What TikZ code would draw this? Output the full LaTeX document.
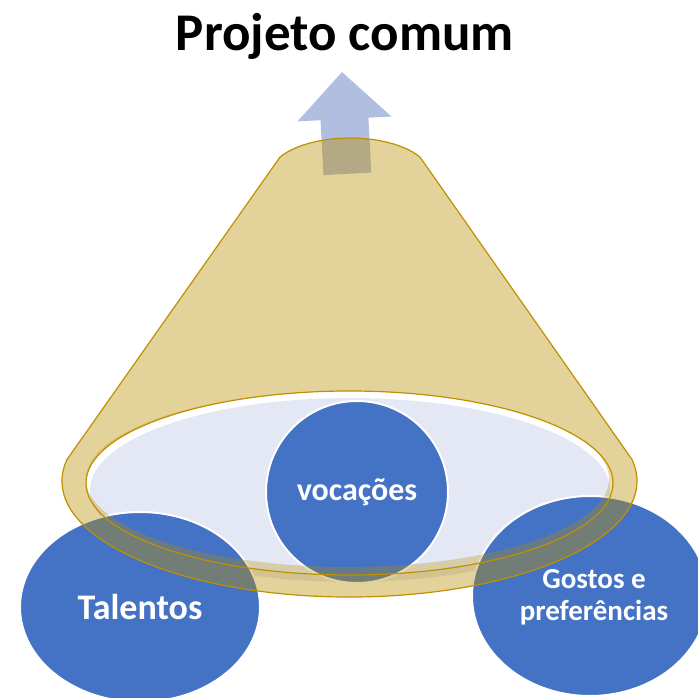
\documentclass[tikz,border=0pt]{standalone}
\usepackage{fontspec}
\setmainfont{Carlito}
\usetikzlibrary{shapes.geometric}
\definecolor{blob}{RGB}{68,114,196}
\definecolor{lav}{RGB}{228,232,244}
\definecolor{gold}{RGB}{185,142,0}
\definecolor{goldline}{RGB}{191,144,0}
\definecolor{arrowblue}{RGB}{176,190,223}
\begin{document}
\begin{tikzpicture}[x=1pt,y=-1pt,
  blobstyle/.style={ellipse, fill=blob, draw=white, line width=2pt, inner sep=0pt, text=white, align=center},
  titlestyle/.style={font=\bfseries\fontsize{53}{60}\selectfont, anchor=base, inner sep=0pt},
  conefill/.style={fill=gold, fill opacity=0.4, even odd rule},
  coneline/.style={draw=goldline, line width=1.2pt}
]
\useasboundingbox (0,0) rectangle (697,698);
% inner light area
\fill[lav] (350,490) ellipse [x radius=260, y radius=92];
% circles
\node[blobstyle, minimum width=240pt, minimum height=190pt, font=\bfseries\fontsize{36}{40}\selectfont] (tal) at (140,607) {Talentos};
\node[blobstyle, minimum width=182pt, minimum height=182pt, font=\bfseries\fontsize{32}{36}\selectfont] (voc) at (357,492) {vocações};
\node[blobstyle, minimum width=236pt, minimum height=200pt] (gos) at (590,596) {};
\node[text=white, align=center, font=\bfseries\fontsize{29}{32}\selectfont] (gost) at (594,597) {Gostos e\\preferências};
% arrow
\fill[arrowblue] (342,72) -- (391.4,116.5) -- (368.4,117.7) -- (371.3,172.6) -- (323.4,175.1) -- (320.5,120.2) -- (297.5,121.4) -- cycle;
% cone (funnel)
\path[conefill] (280,157.1) -- (67,459.5) arc[start angle=190.7, end angle=-10.7, x radius=287.5, y radius=116] -- (420,157.1) arc[start angle=-29, end angle=-151, x radius=80, y radius=37] -- cycle
  (349.5,483) ellipse [x radius=263.5, y radius=92];
\path[fill=gold, fill opacity=0.3, even odd rule] (349.5,483) ellipse [x radius=263.5, y radius=92] (347.5,479) ellipse [x radius=261.5, y radius=88];
\path[coneline] (280,157.1) -- (67,459.5) arc[start angle=190.7, end angle=-10.7, x radius=287.5, y radius=116] -- (420,157.1) arc[start angle=-29, end angle=-151, x radius=80, y radius=37] -- cycle;
\path[coneline] (349.5,483) ellipse [x radius=263.5, y radius=92];
% title
\node[titlestyle, text=black] (title) at (345,51) {Projeto comum};
\end{tikzpicture}
\end{document}
